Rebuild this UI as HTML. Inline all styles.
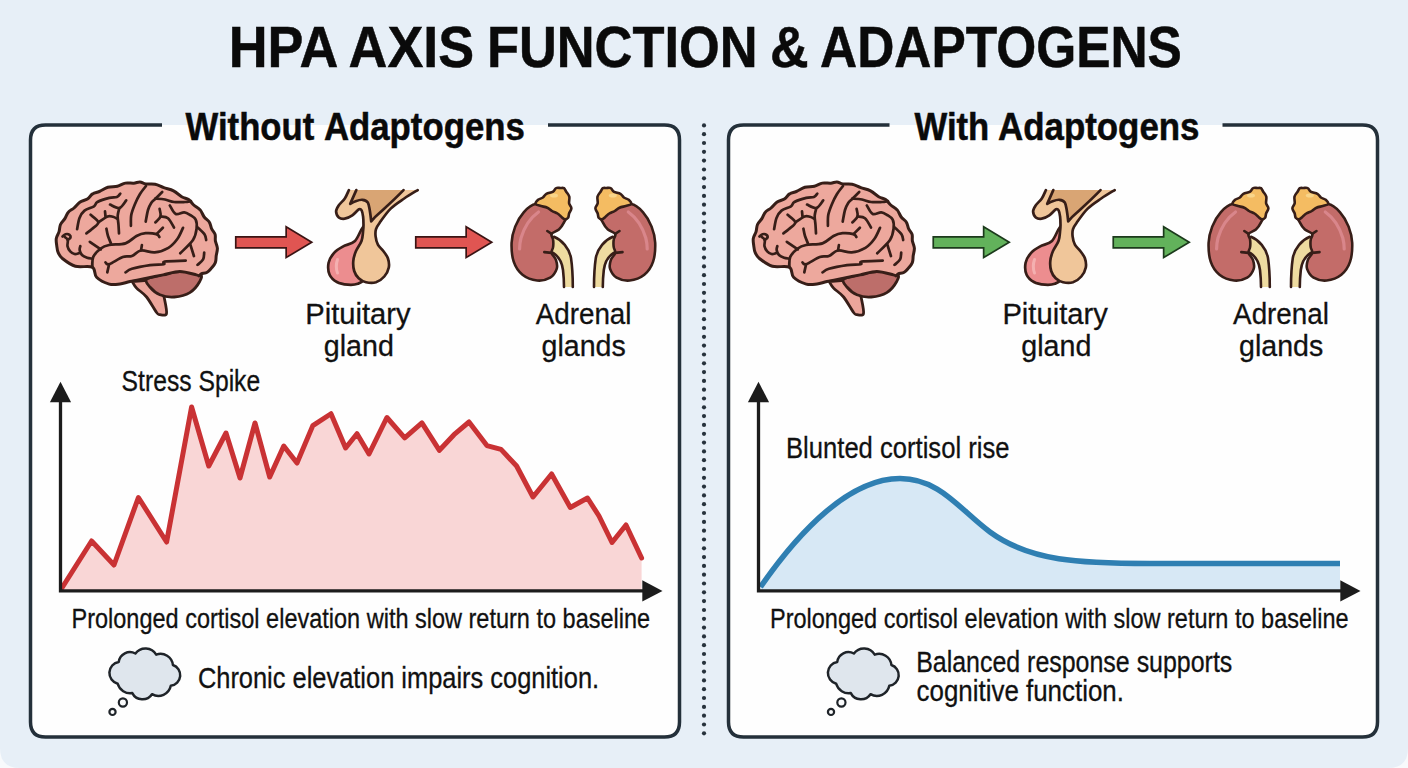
<!DOCTYPE html>
<html><head><meta charset="utf-8"><style>
html,body{margin:0;padding:0;width:1408px;height:768px;overflow:hidden;background:#f8fafc}
svg{display:block}
text{font-family:"Liberation Sans",sans-serif}
</style></head><body>
<svg width="1408" height="768" viewBox="0 0 1408 768">
<path d="M0,0 L1408,0 L1408,748 Q1408,768 1388,768 L20,768 Q0,768 0,748 Z" fill="#e7eff7"/>
<text x="228.7" y="67" font-size="58" font-weight="bold" fill="#0a0a0a" stroke="#0a0a0a" stroke-width="0.5" textLength="109.6" lengthAdjust="spacingAndGlyphs">HPA</text><text x="348.6" y="67" font-size="58" font-weight="bold" fill="#0a0a0a" stroke="#0a0a0a" stroke-width="0.5" textLength="125.6" lengthAdjust="spacingAndGlyphs">AXIS</text><text x="486.9" y="67" font-size="58" font-weight="bold" fill="#0a0a0a" stroke="#0a0a0a" stroke-width="0.5" textLength="270.8" lengthAdjust="spacingAndGlyphs">FUNCTION</text><text x="770" y="67" font-size="58" font-weight="bold" fill="#0a0a0a" stroke="#0a0a0a" stroke-width="0.5" textLength="38.6" lengthAdjust="spacingAndGlyphs">&amp;</text><text x="820" y="67" font-size="58" font-weight="bold" fill="#0a0a0a" stroke="#0a0a0a" stroke-width="0.5" textLength="361.9" lengthAdjust="spacingAndGlyphs">ADAPTOGENS</text>
<rect x="30.5" y="125" width="649.0" height="612" rx="15" fill="#fefefe"/><path d="M162,125 L45.5,125 Q30.5,125 30.5,140 L30.5,722 Q30.5,737 45.5,737 L664.5,737 Q679.5,737 679.5,722 L679.5,140 Q679.5,125 664.5,125 L548,125" fill="none" stroke="#24303a" stroke-width="3.5"/>
<rect x="728.5" y="125" width="649.0" height="612" rx="15" fill="#fefefe"/><path d="M889.5,125 L743.5,125 Q728.5,125 728.5,140 L728.5,722 Q728.5,737 743.5,737 L1362.5,737 Q1377.5,737 1377.5,722 L1377.5,140 Q1377.5,125 1362.5,125 L1222.5,125" fill="none" stroke="#24303a" stroke-width="3.5"/>
<g fill="#27323c"><circle cx="704" cy="125.4" r="2.1"/><circle cx="704" cy="134.2" r="2.1"/><circle cx="704" cy="143.0" r="2.1"/><circle cx="704" cy="151.8" r="2.1"/><circle cx="704" cy="160.6" r="2.1"/><circle cx="704" cy="169.5" r="2.1"/><circle cx="704" cy="178.3" r="2.1"/><circle cx="704" cy="187.1" r="2.1"/><circle cx="704" cy="195.9" r="2.1"/><circle cx="704" cy="204.7" r="2.1"/><circle cx="704" cy="213.5" r="2.1"/><circle cx="704" cy="222.3" r="2.1"/><circle cx="704" cy="231.1" r="2.1"/><circle cx="704" cy="239.9" r="2.1"/><circle cx="704" cy="248.7" r="2.1"/><circle cx="704" cy="257.6" r="2.1"/><circle cx="704" cy="266.4" r="2.1"/><circle cx="704" cy="275.2" r="2.1"/><circle cx="704" cy="284.0" r="2.1"/><circle cx="704" cy="292.8" r="2.1"/><circle cx="704" cy="301.6" r="2.1"/><circle cx="704" cy="310.4" r="2.1"/><circle cx="704" cy="319.2" r="2.1"/><circle cx="704" cy="328.0" r="2.1"/><circle cx="704" cy="336.8" r="2.1"/><circle cx="704" cy="345.6" r="2.1"/><circle cx="704" cy="354.5" r="2.1"/><circle cx="704" cy="363.3" r="2.1"/><circle cx="704" cy="372.1" r="2.1"/><circle cx="704" cy="380.9" r="2.1"/><circle cx="704" cy="389.7" r="2.1"/><circle cx="704" cy="398.5" r="2.1"/><circle cx="704" cy="407.3" r="2.1"/><circle cx="704" cy="416.1" r="2.1"/><circle cx="704" cy="424.9" r="2.1"/><circle cx="704" cy="433.8" r="2.1"/><circle cx="704" cy="442.6" r="2.1"/><circle cx="704" cy="451.4" r="2.1"/><circle cx="704" cy="460.2" r="2.1"/><circle cx="704" cy="469.0" r="2.1"/><circle cx="704" cy="477.8" r="2.1"/><circle cx="704" cy="486.6" r="2.1"/><circle cx="704" cy="495.4" r="2.1"/><circle cx="704" cy="504.2" r="2.1"/><circle cx="704" cy="513.0" r="2.1"/><circle cx="704" cy="521.9" r="2.1"/><circle cx="704" cy="530.7" r="2.1"/><circle cx="704" cy="539.5" r="2.1"/><circle cx="704" cy="548.3" r="2.1"/><circle cx="704" cy="557.1" r="2.1"/><circle cx="704" cy="565.9" r="2.1"/><circle cx="704" cy="574.7" r="2.1"/><circle cx="704" cy="583.5" r="2.1"/><circle cx="704" cy="592.3" r="2.1"/><circle cx="704" cy="601.1" r="2.1"/><circle cx="704" cy="610.0" r="2.1"/><circle cx="704" cy="618.8" r="2.1"/><circle cx="704" cy="627.6" r="2.1"/><circle cx="704" cy="636.4" r="2.1"/><circle cx="704" cy="645.2" r="2.1"/><circle cx="704" cy="654.0" r="2.1"/><circle cx="704" cy="662.8" r="2.1"/><circle cx="704" cy="671.6" r="2.1"/><circle cx="704" cy="680.4" r="2.1"/><circle cx="704" cy="689.2" r="2.1"/><circle cx="704" cy="698.0" r="2.1"/><circle cx="704" cy="706.9" r="2.1"/><circle cx="704" cy="715.7" r="2.1"/><circle cx="704" cy="724.5" r="2.1"/><circle cx="704" cy="733.3" r="2.1"/></g>
<text x="185.6" y="139.5" font-size="39" font-weight="bold" fill="#0a0a0a" stroke="#0a0a0a" stroke-width="0.5" textLength="128.6" lengthAdjust="spacingAndGlyphs">Without</text><text x="323.9" y="139.5" font-size="39" font-weight="bold" fill="#0a0a0a" stroke="#0a0a0a" stroke-width="0.5" textLength="201" lengthAdjust="spacingAndGlyphs">Adaptogens</text>
<text x="914.5" y="139.5" font-size="39" font-weight="bold" fill="#0a0a0a" stroke="#0a0a0a" stroke-width="0.5" textLength="74.8" lengthAdjust="spacingAndGlyphs">With</text><text x="998" y="139.5" font-size="39" font-weight="bold" fill="#0a0a0a" stroke="#0a0a0a" stroke-width="0.5" textLength="201.5" lengthAdjust="spacingAndGlyphs">Adaptogens</text>
<g transform="translate(0,0)"><path d="M132.2,281.5 C132.9,282.6 134.2,285.5 136.6,288.1 C139.0,290.7 143.3,292.9 146.6,297.0 C149.9,301.1 154.4,309.6 156.6,312.5 C158.8,315.4 158.2,314.5 159.9,314.7 C161.6,314.9 165.8,316.4 166.5,313.6 C167.2,310.8 165.0,301.7 164.3,298.1 C163.6,294.5 162.5,293.0 162.1,292.0 L150,280 Z" fill="#eca59b" stroke="#371e18" stroke-linejoin="round" stroke-linecap="round" stroke-width="2.8"/><path d="M146.6,279.3 C144.4,281.4 147.7,284.4 149.9,287.0 C152.1,289.6 155.8,293.1 159.9,294.8 C164.0,296.5 169.3,297.4 174.3,297.0 C179.3,296.6 185.6,295.2 189.8,292.6 C194.0,290.0 198.0,284.6 199.7,281.5 C201.3,278.4 203.0,275.7 199.7,274.0 C196.4,272.3 186.1,271.4 180.0,271.5 C173.9,271.6 168.6,273.2 163.0,274.5 C157.4,275.8 148.8,277.2 146.6,279.3 Z" fill="#bd6e6a" stroke="#371e18" stroke-linejoin="round" stroke-linecap="round" stroke-width="2.8"/><path d="M92.3,267.2 C88.8,265.4 80.3,267.7 75.4,266.3 C70.5,264.9 65.6,261.0 62.7,258.7 C59.8,256.4 59.2,254.9 58.2,252.7 C57.2,250.5 57.0,247.8 56.7,245.4 C56.4,243.0 55.9,240.6 56.3,238.4 C56.7,236.1 58.3,234.2 59.0,231.9 C59.7,229.6 59.5,226.8 60.5,224.5 C61.5,222.3 63.7,220.5 65.0,218.4 C66.3,216.3 66.8,213.9 68.3,212.2 C69.8,210.4 72.1,209.7 74.0,208.0 C75.9,206.3 77.6,203.7 79.8,202.2 C82.0,200.7 85.3,200.4 87.4,199.0 C89.5,197.6 90.6,195.1 92.6,193.9 C94.6,192.6 96.8,192.6 99.4,191.5 C102.0,190.4 104.9,188.2 107.9,187.3 C110.9,186.4 114.5,186.9 117.4,186.2 C120.3,185.5 122.6,183.6 125.3,183.1 C128.0,182.6 131.4,183.4 133.8,183.2 C136.2,183.0 137.9,181.9 139.9,182.0 C141.9,182.1 143.3,183.6 145.8,184.0 C148.3,184.4 152.1,183.7 155.1,184.3 C158.1,184.9 160.7,186.6 163.8,187.7 C166.9,188.8 170.5,189.3 173.5,190.8 C176.5,192.3 179.2,195.2 181.7,196.7 C184.2,198.2 186.6,198.2 188.6,199.5 C190.6,200.9 191.8,203.3 193.7,205.0 C195.6,206.7 198.4,207.9 200.2,209.9 C201.9,211.9 202.7,215.0 204.2,217.0 C205.7,219.0 208.1,220.1 209.3,222.1 C210.6,224.1 210.7,226.8 211.7,228.9 C212.7,231.0 214.5,232.4 215.1,234.4 C215.7,236.4 215.0,238.6 215.4,240.9 C215.8,243.2 217.3,245.8 217.4,248.3 C217.5,250.7 216.5,253.5 216.2,255.8 C215.9,258.1 216.2,260.4 215.4,262.4 C214.7,264.4 213.1,266.2 211.7,267.8 C210.3,269.4 209.0,271.2 207.2,272.2 C205.5,273.2 202.5,273.2 201.2,273.8 C199.9,274.4 200.0,275.7 199.2,275.9 C198.4,276.1 199.6,275.6 196.4,274.9 C193.2,274.2 185.3,271.5 179.8,271.5 C174.3,271.5 168.7,273.8 163.2,274.9 C157.7,276.0 152.1,277.1 146.6,278.2 C141.1,279.3 134.4,280.5 130.0,281.5 C125.6,282.5 123.5,283.6 120.0,284.0 C116.5,284.4 113.2,285.2 109.3,284.1 C105.4,283.0 99.4,280.1 96.6,277.3 C93.8,274.5 95.8,269.0 92.3,267.2 Z" fill="#eda89d" stroke="#371e18" stroke-linejoin="round" stroke-linecap="round" stroke-width="3"/><path d="M77.1,229.2 C77.5,227.3 78.3,221.1 79.5,218.0 C80.7,214.9 82.1,212.5 84.5,210.6 C86.9,208.7 91.8,207.7 94.0,206.3 C96.2,204.9 94.9,203.4 97.4,202.0 C100.0,200.6 106.0,198.7 109.3,197.9 C112.5,197.1 115.1,197.7 116.9,197.0 C118.7,196.3 119.7,194.2 120.3,193.6" fill="none" stroke="#371e18" stroke-linejoin="round" stroke-linecap="round" stroke-width="2.7"/><path d="M90.6,214.8 C91.9,216.1 98.1,220.0 98.3,222.4 C98.5,224.8 94.0,227.2 92.0,229.0 C90.0,230.8 87.3,232.7 86.4,233.4" fill="none" stroke="#371e18" stroke-linejoin="round" stroke-linecap="round" stroke-width="2.7"/><path d="M98.3,222.4 C99.8,221.4 105.1,217.4 107.6,216.5 C110.0,215.6 111.3,216.4 113.0,216.8 C114.7,217.2 116.9,218.6 117.7,219.0" fill="none" stroke="#371e18" stroke-linejoin="round" stroke-linecap="round" stroke-width="2.7"/><path d="M105.0,211.4 L105.5,216.5" fill="none" stroke="#371e18" stroke-linejoin="round" stroke-linecap="round" stroke-width="2.7"/><path d="M110.0,204.6 C111.6,205.2 116.7,208.7 119.4,208.0 C122.1,207.3 125.1,201.7 126.2,200.4" fill="none" stroke="#371e18" stroke-linejoin="round" stroke-linecap="round" stroke-width="2.7"/><path d="M119.4,208.0 C119.1,209.3 117.9,212.8 117.7,215.6 C117.5,218.4 118.3,222.0 118.5,225.0 C118.7,228.0 118.9,232.0 119.0,233.4" fill="none" stroke="#371e18" stroke-linejoin="round" stroke-linecap="round" stroke-width="2.7"/><path d="M106.4,228.7 C106.7,229.9 107.2,233.6 108.0,236.0 C108.8,238.4 110.4,242.1 110.9,243.3" fill="none" stroke="#371e18" stroke-linejoin="round" stroke-linecap="round" stroke-width="2.7"/><path d="M130.9,225.8 C131.0,224.0 130.6,218.4 131.3,214.8 C132.0,211.2 133.6,207.5 135.0,204.0 C136.4,200.5 138.2,197.0 140.0,194.0 C141.8,191.0 145.0,187.3 146.0,186.0" fill="none" stroke="#371e18" stroke-linejoin="round" stroke-linecap="round" stroke-width="2.7"/><path d="M145.7,221.6 C146.1,219.7 147.1,213.1 148.0,210.0 C148.9,206.9 150.0,204.9 151.2,203.0 C152.4,201.1 153.6,200.5 155.4,198.7 C157.2,196.9 161.1,193.1 162.2,192.0" fill="none" stroke="#371e18" stroke-linejoin="round" stroke-linecap="round" stroke-width="2.7"/><path d="M155.4,198.7 C157.0,198.8 161.9,198.9 165.0,199.5 C168.1,200.1 170.7,201.6 174.0,202.0 C177.3,202.4 182.2,202.1 185.0,202.0 C187.8,201.9 190.0,201.3 191.0,201.2" fill="none" stroke="#371e18" stroke-linejoin="round" stroke-linecap="round" stroke-width="2.7"/><path d="M169.8,205.5 C170.8,206.9 173.3,212.9 175.7,214.0 C178.1,215.1 181.8,212.1 184.2,212.3 C186.6,212.5 188.3,213.8 190.2,215.0 C192.1,216.2 194.6,217.3 195.7,219.6 C196.8,221.9 197.0,225.3 196.6,228.7 C196.2,232.1 195.7,235.9 193.0,240.0 C190.3,244.1 182.3,251.1 180.2,253.3" fill="none" stroke="#371e18" stroke-linejoin="round" stroke-linecap="round" stroke-width="2.7"/><path d="M190.2,244.2 L193.9,256.0" fill="none" stroke="#371e18" stroke-linejoin="round" stroke-linecap="round" stroke-width="2.7"/><path d="M159.6,208.9 C159.8,210.2 161.2,214.2 160.5,216.5 C159.8,218.8 156.2,221.4 155.4,222.4" fill="none" stroke="#371e18" stroke-linejoin="round" stroke-linecap="round" stroke-width="2.7"/><path d="M160.5,216.5 C161.8,216.8 165.8,216.4 168.0,218.2 C170.2,220.0 173.0,225.9 174.0,227.5" fill="none" stroke="#371e18" stroke-linejoin="round" stroke-linecap="round" stroke-width="2.7"/><path d="M183.0,227.8 C182.1,229.6 179.9,235.4 177.5,238.7 C175.1,242.0 172.2,245.5 168.4,247.8 C164.6,250.1 159.3,252.0 154.7,252.4 C150.1,252.8 144.8,249.9 141.0,250.5 C137.2,251.1 134.9,254.9 131.9,256.0 C128.9,257.1 126.6,255.6 122.8,257.0 C119.0,258.4 112.0,263.3 109.1,264.2 C106.2,265.1 106.1,262.7 105.5,262.4" fill="none" stroke="#371e18" stroke-linejoin="round" stroke-linecap="round" stroke-width="2.7"/><path d="M141.0,250.5 L141.9,245.1" fill="none" stroke="#371e18" stroke-linejoin="round" stroke-linecap="round" stroke-width="2.7"/><path d="M109.1,264.2 L107.3,272.4" fill="none" stroke="#371e18" stroke-linejoin="round" stroke-linecap="round" stroke-width="2.7"/><path d="M197.7,227.5 C198.8,228.6 203.1,232.2 204.5,234.3 C205.9,236.4 205.9,239.1 206.2,240.0" fill="none" stroke="#371e18" stroke-linejoin="round" stroke-linecap="round" stroke-width="2.7"/><path d="M125.5,272.4 C126.6,271.8 127.8,270.0 131.9,268.8 C136.0,267.6 144.8,265.9 150.1,265.1 C155.4,264.3 161.4,264.8 163.8,264.2 C166.2,263.6 161.0,262.1 164.7,261.5 C168.3,260.9 182.2,260.8 185.7,260.6" fill="none" stroke="#371e18" stroke-linejoin="round" stroke-linecap="round" stroke-width="2.7"/><path d="M197.5,264.9 C198.4,264.0 202.0,261.4 203.1,259.4 C204.2,257.4 204.0,253.8 204.2,252.7" fill="none" stroke="#371e18" stroke-linejoin="round" stroke-linecap="round" stroke-width="2.7"/><path d="M89.8,241.8 L100.8,249.4" fill="none" stroke="#371e18" stroke-linejoin="round" stroke-linecap="round" stroke-width="2.7"/><path d="M64.8,237.0 C65.3,237.5 67.3,238.5 67.8,240.0 C68.2,241.5 67.1,244.3 67.5,246.2 C67.9,248.1 69.0,250.0 70.2,251.3 C71.4,252.6 73.1,253.7 74.6,254.0 C76.1,254.3 78.3,253.3 79.0,253.2" fill="none" stroke="#371e18" stroke-linejoin="round" stroke-linecap="round" stroke-width="2.7"/><path d="M80.3,246.2 C80.2,246.9 79.4,248.7 79.7,250.2 C80.0,251.7 80.8,253.8 82.0,255.0 C83.2,256.2 85.4,257.1 87.1,257.7 C88.8,258.3 91.4,258.5 92.3,258.7" fill="none" stroke="#371e18" stroke-linejoin="round" stroke-linecap="round" stroke-width="2.7"/><path d="M62.5,236.5 C63.0,236.1 64.3,234.5 65.5,234.2 C66.7,233.9 68.7,234.2 69.5,234.8 C70.3,235.4 70.8,236.6 70.5,237.5 C70.2,238.4 68.2,239.6 67.8,240.0" fill="none" stroke="#371e18" stroke-linejoin="round" stroke-linecap="round" stroke-width="2.7"/><path d="M162.9,227.8 L156.5,234.1" fill="none" stroke="#371e18" stroke-linejoin="round" stroke-linecap="round" stroke-width="2.7"/><path d="M92.3,267.2 C92.5,265.5 91.8,260.1 93.2,257.0 C94.6,253.9 98.2,250.5 100.8,248.5 C103.4,246.5 105.0,245.9 109.1,245.0 C113.2,244.1 120.9,244.8 125.5,243.3 C130.1,241.8 133.2,237.7 136.5,236.0 C139.8,234.3 142.3,233.5 145.6,233.2 C148.9,232.9 154.2,233.5 156.5,234.1 C158.8,234.7 158.8,236.4 159.3,236.9" fill="none" stroke="#371e18" stroke-linejoin="round" stroke-linecap="round" stroke-width="2.8"/></g><g transform="translate(697,0)"><path d="M132.2,281.5 C132.9,282.6 134.2,285.5 136.6,288.1 C139.0,290.7 143.3,292.9 146.6,297.0 C149.9,301.1 154.4,309.6 156.6,312.5 C158.8,315.4 158.2,314.5 159.9,314.7 C161.6,314.9 165.8,316.4 166.5,313.6 C167.2,310.8 165.0,301.7 164.3,298.1 C163.6,294.5 162.5,293.0 162.1,292.0 L150,280 Z" fill="#eca59b" stroke="#371e18" stroke-linejoin="round" stroke-linecap="round" stroke-width="2.8"/><path d="M146.6,279.3 C144.4,281.4 147.7,284.4 149.9,287.0 C152.1,289.6 155.8,293.1 159.9,294.8 C164.0,296.5 169.3,297.4 174.3,297.0 C179.3,296.6 185.6,295.2 189.8,292.6 C194.0,290.0 198.0,284.6 199.7,281.5 C201.3,278.4 203.0,275.7 199.7,274.0 C196.4,272.3 186.1,271.4 180.0,271.5 C173.9,271.6 168.6,273.2 163.0,274.5 C157.4,275.8 148.8,277.2 146.6,279.3 Z" fill="#bd6e6a" stroke="#371e18" stroke-linejoin="round" stroke-linecap="round" stroke-width="2.8"/><path d="M92.3,267.2 C88.8,265.4 80.3,267.7 75.4,266.3 C70.5,264.9 65.6,261.0 62.7,258.7 C59.8,256.4 59.2,254.9 58.2,252.7 C57.2,250.5 57.0,247.8 56.7,245.4 C56.4,243.0 55.9,240.6 56.3,238.4 C56.7,236.1 58.3,234.2 59.0,231.9 C59.7,229.6 59.5,226.8 60.5,224.5 C61.5,222.3 63.7,220.5 65.0,218.4 C66.3,216.3 66.8,213.9 68.3,212.2 C69.8,210.4 72.1,209.7 74.0,208.0 C75.9,206.3 77.6,203.7 79.8,202.2 C82.0,200.7 85.3,200.4 87.4,199.0 C89.5,197.6 90.6,195.1 92.6,193.9 C94.6,192.6 96.8,192.6 99.4,191.5 C102.0,190.4 104.9,188.2 107.9,187.3 C110.9,186.4 114.5,186.9 117.4,186.2 C120.3,185.5 122.6,183.6 125.3,183.1 C128.0,182.6 131.4,183.4 133.8,183.2 C136.2,183.0 137.9,181.9 139.9,182.0 C141.9,182.1 143.3,183.6 145.8,184.0 C148.3,184.4 152.1,183.7 155.1,184.3 C158.1,184.9 160.7,186.6 163.8,187.7 C166.9,188.8 170.5,189.3 173.5,190.8 C176.5,192.3 179.2,195.2 181.7,196.7 C184.2,198.2 186.6,198.2 188.6,199.5 C190.6,200.9 191.8,203.3 193.7,205.0 C195.6,206.7 198.4,207.9 200.2,209.9 C201.9,211.9 202.7,215.0 204.2,217.0 C205.7,219.0 208.1,220.1 209.3,222.1 C210.6,224.1 210.7,226.8 211.7,228.9 C212.7,231.0 214.5,232.4 215.1,234.4 C215.7,236.4 215.0,238.6 215.4,240.9 C215.8,243.2 217.3,245.8 217.4,248.3 C217.5,250.7 216.5,253.5 216.2,255.8 C215.9,258.1 216.2,260.4 215.4,262.4 C214.7,264.4 213.1,266.2 211.7,267.8 C210.3,269.4 209.0,271.2 207.2,272.2 C205.5,273.2 202.5,273.2 201.2,273.8 C199.9,274.4 200.0,275.7 199.2,275.9 C198.4,276.1 199.6,275.6 196.4,274.9 C193.2,274.2 185.3,271.5 179.8,271.5 C174.3,271.5 168.7,273.8 163.2,274.9 C157.7,276.0 152.1,277.1 146.6,278.2 C141.1,279.3 134.4,280.5 130.0,281.5 C125.6,282.5 123.5,283.6 120.0,284.0 C116.5,284.4 113.2,285.2 109.3,284.1 C105.4,283.0 99.4,280.1 96.6,277.3 C93.8,274.5 95.8,269.0 92.3,267.2 Z" fill="#eda89d" stroke="#371e18" stroke-linejoin="round" stroke-linecap="round" stroke-width="3"/><path d="M77.1,229.2 C77.5,227.3 78.3,221.1 79.5,218.0 C80.7,214.9 82.1,212.5 84.5,210.6 C86.9,208.7 91.8,207.7 94.0,206.3 C96.2,204.9 94.9,203.4 97.4,202.0 C100.0,200.6 106.0,198.7 109.3,197.9 C112.5,197.1 115.1,197.7 116.9,197.0 C118.7,196.3 119.7,194.2 120.3,193.6" fill="none" stroke="#371e18" stroke-linejoin="round" stroke-linecap="round" stroke-width="2.7"/><path d="M90.6,214.8 C91.9,216.1 98.1,220.0 98.3,222.4 C98.5,224.8 94.0,227.2 92.0,229.0 C90.0,230.8 87.3,232.7 86.4,233.4" fill="none" stroke="#371e18" stroke-linejoin="round" stroke-linecap="round" stroke-width="2.7"/><path d="M98.3,222.4 C99.8,221.4 105.1,217.4 107.6,216.5 C110.0,215.6 111.3,216.4 113.0,216.8 C114.7,217.2 116.9,218.6 117.7,219.0" fill="none" stroke="#371e18" stroke-linejoin="round" stroke-linecap="round" stroke-width="2.7"/><path d="M105.0,211.4 L105.5,216.5" fill="none" stroke="#371e18" stroke-linejoin="round" stroke-linecap="round" stroke-width="2.7"/><path d="M110.0,204.6 C111.6,205.2 116.7,208.7 119.4,208.0 C122.1,207.3 125.1,201.7 126.2,200.4" fill="none" stroke="#371e18" stroke-linejoin="round" stroke-linecap="round" stroke-width="2.7"/><path d="M119.4,208.0 C119.1,209.3 117.9,212.8 117.7,215.6 C117.5,218.4 118.3,222.0 118.5,225.0 C118.7,228.0 118.9,232.0 119.0,233.4" fill="none" stroke="#371e18" stroke-linejoin="round" stroke-linecap="round" stroke-width="2.7"/><path d="M106.4,228.7 C106.7,229.9 107.2,233.6 108.0,236.0 C108.8,238.4 110.4,242.1 110.9,243.3" fill="none" stroke="#371e18" stroke-linejoin="round" stroke-linecap="round" stroke-width="2.7"/><path d="M130.9,225.8 C131.0,224.0 130.6,218.4 131.3,214.8 C132.0,211.2 133.6,207.5 135.0,204.0 C136.4,200.5 138.2,197.0 140.0,194.0 C141.8,191.0 145.0,187.3 146.0,186.0" fill="none" stroke="#371e18" stroke-linejoin="round" stroke-linecap="round" stroke-width="2.7"/><path d="M145.7,221.6 C146.1,219.7 147.1,213.1 148.0,210.0 C148.9,206.9 150.0,204.9 151.2,203.0 C152.4,201.1 153.6,200.5 155.4,198.7 C157.2,196.9 161.1,193.1 162.2,192.0" fill="none" stroke="#371e18" stroke-linejoin="round" stroke-linecap="round" stroke-width="2.7"/><path d="M155.4,198.7 C157.0,198.8 161.9,198.9 165.0,199.5 C168.1,200.1 170.7,201.6 174.0,202.0 C177.3,202.4 182.2,202.1 185.0,202.0 C187.8,201.9 190.0,201.3 191.0,201.2" fill="none" stroke="#371e18" stroke-linejoin="round" stroke-linecap="round" stroke-width="2.7"/><path d="M169.8,205.5 C170.8,206.9 173.3,212.9 175.7,214.0 C178.1,215.1 181.8,212.1 184.2,212.3 C186.6,212.5 188.3,213.8 190.2,215.0 C192.1,216.2 194.6,217.3 195.7,219.6 C196.8,221.9 197.0,225.3 196.6,228.7 C196.2,232.1 195.7,235.9 193.0,240.0 C190.3,244.1 182.3,251.1 180.2,253.3" fill="none" stroke="#371e18" stroke-linejoin="round" stroke-linecap="round" stroke-width="2.7"/><path d="M190.2,244.2 L193.9,256.0" fill="none" stroke="#371e18" stroke-linejoin="round" stroke-linecap="round" stroke-width="2.7"/><path d="M159.6,208.9 C159.8,210.2 161.2,214.2 160.5,216.5 C159.8,218.8 156.2,221.4 155.4,222.4" fill="none" stroke="#371e18" stroke-linejoin="round" stroke-linecap="round" stroke-width="2.7"/><path d="M160.5,216.5 C161.8,216.8 165.8,216.4 168.0,218.2 C170.2,220.0 173.0,225.9 174.0,227.5" fill="none" stroke="#371e18" stroke-linejoin="round" stroke-linecap="round" stroke-width="2.7"/><path d="M183.0,227.8 C182.1,229.6 179.9,235.4 177.5,238.7 C175.1,242.0 172.2,245.5 168.4,247.8 C164.6,250.1 159.3,252.0 154.7,252.4 C150.1,252.8 144.8,249.9 141.0,250.5 C137.2,251.1 134.9,254.9 131.9,256.0 C128.9,257.1 126.6,255.6 122.8,257.0 C119.0,258.4 112.0,263.3 109.1,264.2 C106.2,265.1 106.1,262.7 105.5,262.4" fill="none" stroke="#371e18" stroke-linejoin="round" stroke-linecap="round" stroke-width="2.7"/><path d="M141.0,250.5 L141.9,245.1" fill="none" stroke="#371e18" stroke-linejoin="round" stroke-linecap="round" stroke-width="2.7"/><path d="M109.1,264.2 L107.3,272.4" fill="none" stroke="#371e18" stroke-linejoin="round" stroke-linecap="round" stroke-width="2.7"/><path d="M197.7,227.5 C198.8,228.6 203.1,232.2 204.5,234.3 C205.9,236.4 205.9,239.1 206.2,240.0" fill="none" stroke="#371e18" stroke-linejoin="round" stroke-linecap="round" stroke-width="2.7"/><path d="M125.5,272.4 C126.6,271.8 127.8,270.0 131.9,268.8 C136.0,267.6 144.8,265.9 150.1,265.1 C155.4,264.3 161.4,264.8 163.8,264.2 C166.2,263.6 161.0,262.1 164.7,261.5 C168.3,260.9 182.2,260.8 185.7,260.6" fill="none" stroke="#371e18" stroke-linejoin="round" stroke-linecap="round" stroke-width="2.7"/><path d="M197.5,264.9 C198.4,264.0 202.0,261.4 203.1,259.4 C204.2,257.4 204.0,253.8 204.2,252.7" fill="none" stroke="#371e18" stroke-linejoin="round" stroke-linecap="round" stroke-width="2.7"/><path d="M89.8,241.8 L100.8,249.4" fill="none" stroke="#371e18" stroke-linejoin="round" stroke-linecap="round" stroke-width="2.7"/><path d="M64.8,237.0 C65.3,237.5 67.3,238.5 67.8,240.0 C68.2,241.5 67.1,244.3 67.5,246.2 C67.9,248.1 69.0,250.0 70.2,251.3 C71.4,252.6 73.1,253.7 74.6,254.0 C76.1,254.3 78.3,253.3 79.0,253.2" fill="none" stroke="#371e18" stroke-linejoin="round" stroke-linecap="round" stroke-width="2.7"/><path d="M80.3,246.2 C80.2,246.9 79.4,248.7 79.7,250.2 C80.0,251.7 80.8,253.8 82.0,255.0 C83.2,256.2 85.4,257.1 87.1,257.7 C88.8,258.3 91.4,258.5 92.3,258.7" fill="none" stroke="#371e18" stroke-linejoin="round" stroke-linecap="round" stroke-width="2.7"/><path d="M62.5,236.5 C63.0,236.1 64.3,234.5 65.5,234.2 C66.7,233.9 68.7,234.2 69.5,234.8 C70.3,235.4 70.8,236.6 70.5,237.5 C70.2,238.4 68.2,239.6 67.8,240.0" fill="none" stroke="#371e18" stroke-linejoin="round" stroke-linecap="round" stroke-width="2.7"/><path d="M162.9,227.8 L156.5,234.1" fill="none" stroke="#371e18" stroke-linejoin="round" stroke-linecap="round" stroke-width="2.7"/><path d="M92.3,267.2 C92.5,265.5 91.8,260.1 93.2,257.0 C94.6,253.9 98.2,250.5 100.8,248.5 C103.4,246.5 105.0,245.9 109.1,245.0 C113.2,244.1 120.9,244.8 125.5,243.3 C130.1,241.8 133.2,237.7 136.5,236.0 C139.8,234.3 142.3,233.5 145.6,233.2 C148.9,232.9 154.2,233.5 156.5,234.1 C158.8,234.7 158.8,236.4 159.3,236.9" fill="none" stroke="#371e18" stroke-linejoin="round" stroke-linecap="round" stroke-width="2.8"/></g>
<path d="M235.75,236.79999999999998 L286.15,236.79999999999998 L286.15,226.79999999999998 L311.75,242.2 L286.15,257.59999999999997 L286.15,247.79999999999998 L235.75,247.79999999999998 Z" fill="#e05552" stroke="#3a1414" stroke-width="1.7" stroke-linejoin="miter"/>
<path d="M415.75,236.79999999999998 L466.15,236.79999999999998 L466.15,226.79999999999998 L491.75,242.2 L466.15,257.59999999999997 L466.15,247.79999999999998 L415.75,247.79999999999998 Z" fill="#e05552" stroke="#3a1414" stroke-width="1.7" stroke-linejoin="miter"/>
<path d="M933.25,236.79999999999998 L983.65,236.79999999999998 L983.65,226.79999999999998 L1009.25,242.2 L983.65,257.59999999999997 L983.65,247.79999999999998 L933.25,247.79999999999998 Z" fill="#62b25b" stroke="#1c3a1c" stroke-width="1.7" stroke-linejoin="miter"/>
<path d="M1113.25,236.79999999999998 L1163.65,236.79999999999998 L1163.65,226.79999999999998 L1189.25,242.2 L1163.65,257.59999999999997 L1163.65,247.79999999999998 L1113.25,247.79999999999998 Z" fill="#62b25b" stroke="#1c3a1c" stroke-width="1.7" stroke-linejoin="miter"/>
<g transform="translate(0,0)"><path d="M364.0,226.0 C361.8,226.2 358.5,237.6 355.0,241.0 C351.5,244.4 346.7,244.4 343.2,246.4 C339.7,248.4 336.5,250.1 334.1,252.8 C331.7,255.5 329.4,259.2 328.6,262.8 C327.9,266.4 328.2,271.5 329.6,274.7 C331.0,277.9 333.9,280.3 336.9,282.0 C339.9,283.7 344.3,284.4 347.8,284.7 C351.3,285.0 355.1,284.8 357.8,283.8 C360.5,282.9 362.0,282.6 364.0,279.0 C366.0,275.4 369.3,268.5 370.0,262.0 C370.7,255.5 369.0,246.0 368.0,240.0 C367.0,234.0 366.2,225.8 364.0,226.0 Z" fill="#ec8d8f" stroke="#371e18" stroke-width="2.7" stroke-linejoin="round" stroke-linecap="round"/><path d="M337.5,259.5 C336,264 336,269 337.5,273" fill="none" stroke="#f4b0b0" stroke-width="3" stroke-linecap="round"/><path d="M348.9,190.1 C348.2,191.5 346.5,196.0 344.8,198.5 C343.1,201.0 340.2,203.1 338.8,205.2 C337.4,207.3 336.1,209.3 336.1,211.3 C336.1,213.3 337.4,216.2 338.8,217.4 C340.2,218.6 342.6,219.0 344.8,218.7 C347.1,218.4 349.9,217.0 352.3,215.4 C354.7,213.8 357.4,210.1 359.0,209.3 C360.6,208.5 361.0,209.4 361.7,210.6 C362.4,211.8 362.8,214.3 363.1,216.7 C363.4,219.1 363.5,222.4 363.5,225.0 C363.5,227.6 363.3,229.3 363.0,232.0 C362.7,234.7 362.7,237.8 361.5,241.0 C360.3,244.2 357.4,247.7 356.0,251.0 C354.6,254.3 353.6,257.7 353.3,261.0 C353.0,264.3 353.3,268.1 354.2,271.0 C355.1,273.9 356.7,276.4 358.7,278.3 C360.7,280.2 363.1,281.6 366.0,282.2 C368.9,282.8 372.9,283.1 376.0,282.2 C379.1,281.2 382.2,279.0 384.3,276.5 C386.4,274.0 388.2,270.4 388.8,267.4 C389.4,264.4 388.8,261.0 387.9,258.3 C387.0,255.6 385.0,253.3 383.3,251.0 C381.6,248.7 379.2,247.0 377.9,244.6 C376.6,242.2 375.9,239.0 375.6,236.4 C375.3,233.8 375.3,231.4 376.0,229.1 C376.7,226.8 377.2,226.1 379.7,222.7 C382.1,219.3 386.6,212.6 390.7,208.6 C394.8,204.6 399.7,201.6 404.2,198.5 C408.7,195.4 415.4,191.5 417.7,190.1 Z" fill="#f0c69a" stroke="none"/><path d="M348.9,190.1 C348.2,191.5 346.5,196.0 344.8,198.5 C343.1,201.0 340.2,203.1 338.8,205.2 C337.4,207.3 336.1,209.3 336.1,211.3 C336.1,213.3 337.4,216.2 338.8,217.4 C340.2,218.6 342.6,219.0 344.8,218.7 C347.1,218.4 349.9,217.0 352.3,215.4 C354.7,213.8 357.4,210.1 359.0,209.3 C360.6,208.5 361.0,209.4 361.7,210.6 C362.4,211.8 362.8,214.3 363.1,216.7 C363.4,219.1 363.5,222.4 363.5,225.0 C363.5,227.6 363.3,229.3 363.0,232.0 C362.7,234.7 362.7,237.8 361.5,241.0 C360.3,244.2 357.4,247.7 356.0,251.0 C354.6,254.3 353.6,257.7 353.3,261.0 C353.0,264.3 353.3,268.1 354.2,271.0 C355.1,273.9 356.7,276.4 358.7,278.3 C360.7,280.2 363.1,281.6 366.0,282.2 C368.9,282.8 372.9,283.1 376.0,282.2 C379.1,281.2 382.2,279.0 384.3,276.5 C386.4,274.0 388.2,270.4 388.8,267.4 C389.4,264.4 388.8,261.0 387.9,258.3 C387.0,255.6 385.0,253.3 383.3,251.0 C381.6,248.7 379.2,247.0 377.9,244.6 C376.6,242.2 375.9,239.0 375.6,236.4 C375.3,233.8 375.3,231.4 376.0,229.1 C376.7,226.8 377.2,226.1 379.7,222.7 C382.1,219.3 386.6,212.6 390.7,208.6 C394.8,204.6 399.7,201.6 404.2,198.5 C408.7,195.4 415.4,191.5 417.7,190.1" fill="none" stroke="#371e18" stroke-width="2.7" stroke-linejoin="round" stroke-linecap="round"/><path d="M356.3,190.1 L350.2,203.9  C351.1,203.4 353.6,201.9 355.6,201.2 C357.6,200.5 360.4,199.6 362.4,199.8 C364.4,200.0 366.6,200.7 367.8,202.5 C369.0,204.3 369.2,207.4 369.8,210.6 C370.4,213.8 371.0,219.6 371.2,221.4 C374,218 377,215 380,212.5 C386,207 395,199 403.5,190.1 Z" fill="#d9a574" stroke="none"/><path d="M356.3,190.1 L350.2,203.9  C351.1,203.4 353.6,201.9 355.6,201.2 C357.6,200.5 360.4,199.6 362.4,199.8 C364.4,200.0 366.6,200.7 367.8,202.5 C369.0,204.3 369.2,207.4 369.8,210.6 C370.4,213.8 371.0,219.6 371.2,221.4 C374,218 377,215 380,212.5 C386,207 395,199 403.5,190.1" fill="none" stroke="#371e18" stroke-width="2.7" stroke-linejoin="round" stroke-linecap="round"/></g><g transform="translate(697,0)"><path d="M364.0,226.0 C361.8,226.2 358.5,237.6 355.0,241.0 C351.5,244.4 346.7,244.4 343.2,246.4 C339.7,248.4 336.5,250.1 334.1,252.8 C331.7,255.5 329.4,259.2 328.6,262.8 C327.9,266.4 328.2,271.5 329.6,274.7 C331.0,277.9 333.9,280.3 336.9,282.0 C339.9,283.7 344.3,284.4 347.8,284.7 C351.3,285.0 355.1,284.8 357.8,283.8 C360.5,282.9 362.0,282.6 364.0,279.0 C366.0,275.4 369.3,268.5 370.0,262.0 C370.7,255.5 369.0,246.0 368.0,240.0 C367.0,234.0 366.2,225.8 364.0,226.0 Z" fill="#ec8d8f" stroke="#371e18" stroke-width="2.7" stroke-linejoin="round" stroke-linecap="round"/><path d="M337.5,259.5 C336,264 336,269 337.5,273" fill="none" stroke="#f4b0b0" stroke-width="3" stroke-linecap="round"/><path d="M348.9,190.1 C348.2,191.5 346.5,196.0 344.8,198.5 C343.1,201.0 340.2,203.1 338.8,205.2 C337.4,207.3 336.1,209.3 336.1,211.3 C336.1,213.3 337.4,216.2 338.8,217.4 C340.2,218.6 342.6,219.0 344.8,218.7 C347.1,218.4 349.9,217.0 352.3,215.4 C354.7,213.8 357.4,210.1 359.0,209.3 C360.6,208.5 361.0,209.4 361.7,210.6 C362.4,211.8 362.8,214.3 363.1,216.7 C363.4,219.1 363.5,222.4 363.5,225.0 C363.5,227.6 363.3,229.3 363.0,232.0 C362.7,234.7 362.7,237.8 361.5,241.0 C360.3,244.2 357.4,247.7 356.0,251.0 C354.6,254.3 353.6,257.7 353.3,261.0 C353.0,264.3 353.3,268.1 354.2,271.0 C355.1,273.9 356.7,276.4 358.7,278.3 C360.7,280.2 363.1,281.6 366.0,282.2 C368.9,282.8 372.9,283.1 376.0,282.2 C379.1,281.2 382.2,279.0 384.3,276.5 C386.4,274.0 388.2,270.4 388.8,267.4 C389.4,264.4 388.8,261.0 387.9,258.3 C387.0,255.6 385.0,253.3 383.3,251.0 C381.6,248.7 379.2,247.0 377.9,244.6 C376.6,242.2 375.9,239.0 375.6,236.4 C375.3,233.8 375.3,231.4 376.0,229.1 C376.7,226.8 377.2,226.1 379.7,222.7 C382.1,219.3 386.6,212.6 390.7,208.6 C394.8,204.6 399.7,201.6 404.2,198.5 C408.7,195.4 415.4,191.5 417.7,190.1 Z" fill="#f0c69a" stroke="none"/><path d="M348.9,190.1 C348.2,191.5 346.5,196.0 344.8,198.5 C343.1,201.0 340.2,203.1 338.8,205.2 C337.4,207.3 336.1,209.3 336.1,211.3 C336.1,213.3 337.4,216.2 338.8,217.4 C340.2,218.6 342.6,219.0 344.8,218.7 C347.1,218.4 349.9,217.0 352.3,215.4 C354.7,213.8 357.4,210.1 359.0,209.3 C360.6,208.5 361.0,209.4 361.7,210.6 C362.4,211.8 362.8,214.3 363.1,216.7 C363.4,219.1 363.5,222.4 363.5,225.0 C363.5,227.6 363.3,229.3 363.0,232.0 C362.7,234.7 362.7,237.8 361.5,241.0 C360.3,244.2 357.4,247.7 356.0,251.0 C354.6,254.3 353.6,257.7 353.3,261.0 C353.0,264.3 353.3,268.1 354.2,271.0 C355.1,273.9 356.7,276.4 358.7,278.3 C360.7,280.2 363.1,281.6 366.0,282.2 C368.9,282.8 372.9,283.1 376.0,282.2 C379.1,281.2 382.2,279.0 384.3,276.5 C386.4,274.0 388.2,270.4 388.8,267.4 C389.4,264.4 388.8,261.0 387.9,258.3 C387.0,255.6 385.0,253.3 383.3,251.0 C381.6,248.7 379.2,247.0 377.9,244.6 C376.6,242.2 375.9,239.0 375.6,236.4 C375.3,233.8 375.3,231.4 376.0,229.1 C376.7,226.8 377.2,226.1 379.7,222.7 C382.1,219.3 386.6,212.6 390.7,208.6 C394.8,204.6 399.7,201.6 404.2,198.5 C408.7,195.4 415.4,191.5 417.7,190.1" fill="none" stroke="#371e18" stroke-width="2.7" stroke-linejoin="round" stroke-linecap="round"/><path d="M356.3,190.1 L350.2,203.9  C351.1,203.4 353.6,201.9 355.6,201.2 C357.6,200.5 360.4,199.6 362.4,199.8 C364.4,200.0 366.6,200.7 367.8,202.5 C369.0,204.3 369.2,207.4 369.8,210.6 C370.4,213.8 371.0,219.6 371.2,221.4 C374,218 377,215 380,212.5 C386,207 395,199 403.5,190.1 Z" fill="#d9a574" stroke="none"/><path d="M356.3,190.1 L350.2,203.9  C351.1,203.4 353.6,201.9 355.6,201.2 C357.6,200.5 360.4,199.6 362.4,199.8 C364.4,200.0 366.6,200.7 367.8,202.5 C369.0,204.3 369.2,207.4 369.8,210.6 C370.4,213.8 371.0,219.6 371.2,221.4 C374,218 377,215 380,212.5 C386,207 395,199 403.5,190.1" fill="none" stroke="#371e18" stroke-width="2.7" stroke-linejoin="round" stroke-linecap="round"/></g>
<g transform="translate(0,0)"><g><path d="M553,236 C560,240 566,246 569.5,256 C572,266 572.8,276 572.8,287 L564,287 C564,276 563.3,268 561,262 C559,257 556,254 553,252 Z" fill="#eedba0" stroke="none"/><path d="M554,236.8 C562,240 569,248 571,258 C572.5,268 572.8,278 572.8,287" fill="none" stroke="#371e18" stroke-width="2.6" stroke-linejoin="round" stroke-linecap="round"/><path d="M553.1,252.9 C558,256 562,262 563,270 C563.8,277 564,282 564,287" fill="none" stroke="#371e18" stroke-width="2.6" stroke-linejoin="round" stroke-linecap="round"/><path d="M535.6,204.0 C530.4,204.7 527.3,208.3 523.9,212.1 C520.5,215.9 517.2,221.5 515.2,226.6 C513.2,231.7 511.9,236.9 511.6,242.7 C511.4,248.5 511.9,256.3 513.7,261.6 C515.5,266.9 518.6,271.6 522.5,274.7 C526.4,277.8 532.5,280.0 537.1,280.5 C541.7,281.0 546.9,279.5 550.2,277.6 C553.5,275.7 555.7,271.8 556.7,268.9 C557.7,266.0 556.9,262.8 556.0,260.1 C555.1,257.4 552.1,255.1 551.6,252.9 C551.1,250.7 552.9,249.2 553.1,247.0 C553.4,244.8 553.4,241.9 553.1,239.7 C552.9,237.5 550.6,235.6 551.6,233.9 C552.6,232.2 556.8,231.4 558.9,229.5 C561.0,227.6 562.8,224.7 564.0,222.3 C565.2,219.9 567.7,217.4 566.2,215.0 C564.7,212.6 560.1,209.8 555.0,208.0 C549.9,206.2 540.8,203.3 535.6,204.0 Z" fill="#c36c69" stroke="#371e18" stroke-width="2.6" stroke-linejoin="round" stroke-linecap="round"/><path d="M551.6,252.9 L544.3,252.1 M551.6,233.9 L547.3,231" fill="none" stroke="#371e18" stroke-width="2.6" stroke-linejoin="round" stroke-linecap="round"/><path d="M538.5,212 C530,218 524,228 521,238 C519.5,244 519.6,247 519.6,249" fill="none" stroke="#d9868b" stroke-width="3.2" stroke-linecap="round"/><path d="M535.6,204.0 C535.1,203.0 536.9,200.9 538.1,199.8 C539.3,198.8 541.5,198.5 542.9,197.5 C544.3,196.5 544.7,194.8 546.4,193.8 C548.1,192.9 551.5,192.7 553.1,191.7 C554.7,190.7 554.8,188.7 556.1,188.1 C557.3,187.5 559.1,188.0 560.4,188.0 C561.7,188.0 563.0,187.6 564.0,188.2 C564.9,188.8 565.3,190.3 566.2,191.7 C567.1,193.1 568.8,194.7 569.3,196.6 C569.8,198.6 568.8,201.4 569.1,203.3 C569.4,205.2 571.4,206.6 571.4,208.3 C571.4,210.0 569.6,211.9 569.1,213.5 C568.6,215.1 568.8,216.7 568.1,217.7 C567.4,218.6 565.9,219.5 564.7,219.3 C563.5,219.1 562.2,217.5 561.0,216.5 C559.8,215.5 559.0,214.4 557.5,213.5 C556.0,212.6 553.7,212.0 552.0,211.0 C550.3,210.0 549.1,208.5 547.3,207.7 C545.5,206.9 543.0,206.6 541.0,206.0 C539.0,205.4 536.1,205.0 535.6,204.0 Z" fill="#f4bc62" stroke="#371e18" stroke-width="2.6" stroke-linejoin="round" stroke-linecap="round"/><ellipse cx="554" cy="195.5" rx="4" ry="2" fill="#f9d58a"/></g><g transform="translate(1166.8,0) scale(-1,1)"><path d="M553,236 C560,240 566,246 569.5,256 C572,266 572.8,276 572.8,287 L564,287 C564,276 563.3,268 561,262 C559,257 556,254 553,252 Z" fill="#eedba0" stroke="none"/><path d="M554,236.8 C562,240 569,248 571,258 C572.5,268 572.8,278 572.8,287" fill="none" stroke="#371e18" stroke-width="2.6" stroke-linejoin="round" stroke-linecap="round"/><path d="M553.1,252.9 C558,256 562,262 563,270 C563.8,277 564,282 564,287" fill="none" stroke="#371e18" stroke-width="2.6" stroke-linejoin="round" stroke-linecap="round"/><path d="M535.6,204.0 C530.4,204.7 527.3,208.3 523.9,212.1 C520.5,215.9 517.2,221.5 515.2,226.6 C513.2,231.7 511.9,236.9 511.6,242.7 C511.4,248.5 511.9,256.3 513.7,261.6 C515.5,266.9 518.6,271.6 522.5,274.7 C526.4,277.8 532.5,280.0 537.1,280.5 C541.7,281.0 546.9,279.5 550.2,277.6 C553.5,275.7 555.7,271.8 556.7,268.9 C557.7,266.0 556.9,262.8 556.0,260.1 C555.1,257.4 552.1,255.1 551.6,252.9 C551.1,250.7 552.9,249.2 553.1,247.0 C553.4,244.8 553.4,241.9 553.1,239.7 C552.9,237.5 550.6,235.6 551.6,233.9 C552.6,232.2 556.8,231.4 558.9,229.5 C561.0,227.6 562.8,224.7 564.0,222.3 C565.2,219.9 567.7,217.4 566.2,215.0 C564.7,212.6 560.1,209.8 555.0,208.0 C549.9,206.2 540.8,203.3 535.6,204.0 Z" fill="#c36c69" stroke="#371e18" stroke-width="2.6" stroke-linejoin="round" stroke-linecap="round"/><path d="M551.6,252.9 L544.3,252.1 M551.6,233.9 L547.3,231" fill="none" stroke="#371e18" stroke-width="2.6" stroke-linejoin="round" stroke-linecap="round"/><path d="M538.5,212 C530,218 524,228 521,238 C519.5,244 519.6,247 519.6,249" fill="none" stroke="#d9868b" stroke-width="3.2" stroke-linecap="round"/><path d="M535.6,204.0 C535.1,203.0 536.9,200.9 538.1,199.8 C539.3,198.8 541.5,198.5 542.9,197.5 C544.3,196.5 544.7,194.8 546.4,193.8 C548.1,192.9 551.5,192.7 553.1,191.7 C554.7,190.7 554.8,188.7 556.1,188.1 C557.3,187.5 559.1,188.0 560.4,188.0 C561.7,188.0 563.0,187.6 564.0,188.2 C564.9,188.8 565.3,190.3 566.2,191.7 C567.1,193.1 568.8,194.7 569.3,196.6 C569.8,198.6 568.8,201.4 569.1,203.3 C569.4,205.2 571.4,206.6 571.4,208.3 C571.4,210.0 569.6,211.9 569.1,213.5 C568.6,215.1 568.8,216.7 568.1,217.7 C567.4,218.6 565.9,219.5 564.7,219.3 C563.5,219.1 562.2,217.5 561.0,216.5 C559.8,215.5 559.0,214.4 557.5,213.5 C556.0,212.6 553.7,212.0 552.0,211.0 C550.3,210.0 549.1,208.5 547.3,207.7 C545.5,206.9 543.0,206.6 541.0,206.0 C539.0,205.4 536.1,205.0 535.6,204.0 Z" fill="#f4bc62" stroke="#371e18" stroke-width="2.6" stroke-linejoin="round" stroke-linecap="round"/><ellipse cx="554" cy="195.5" rx="4" ry="2" fill="#f9d58a"/></g></g><g transform="translate(697,0)"><g><path d="M553,236 C560,240 566,246 569.5,256 C572,266 572.8,276 572.8,287 L564,287 C564,276 563.3,268 561,262 C559,257 556,254 553,252 Z" fill="#eedba0" stroke="none"/><path d="M554,236.8 C562,240 569,248 571,258 C572.5,268 572.8,278 572.8,287" fill="none" stroke="#371e18" stroke-width="2.6" stroke-linejoin="round" stroke-linecap="round"/><path d="M553.1,252.9 C558,256 562,262 563,270 C563.8,277 564,282 564,287" fill="none" stroke="#371e18" stroke-width="2.6" stroke-linejoin="round" stroke-linecap="round"/><path d="M535.6,204.0 C530.4,204.7 527.3,208.3 523.9,212.1 C520.5,215.9 517.2,221.5 515.2,226.6 C513.2,231.7 511.9,236.9 511.6,242.7 C511.4,248.5 511.9,256.3 513.7,261.6 C515.5,266.9 518.6,271.6 522.5,274.7 C526.4,277.8 532.5,280.0 537.1,280.5 C541.7,281.0 546.9,279.5 550.2,277.6 C553.5,275.7 555.7,271.8 556.7,268.9 C557.7,266.0 556.9,262.8 556.0,260.1 C555.1,257.4 552.1,255.1 551.6,252.9 C551.1,250.7 552.9,249.2 553.1,247.0 C553.4,244.8 553.4,241.9 553.1,239.7 C552.9,237.5 550.6,235.6 551.6,233.9 C552.6,232.2 556.8,231.4 558.9,229.5 C561.0,227.6 562.8,224.7 564.0,222.3 C565.2,219.9 567.7,217.4 566.2,215.0 C564.7,212.6 560.1,209.8 555.0,208.0 C549.9,206.2 540.8,203.3 535.6,204.0 Z" fill="#c36c69" stroke="#371e18" stroke-width="2.6" stroke-linejoin="round" stroke-linecap="round"/><path d="M551.6,252.9 L544.3,252.1 M551.6,233.9 L547.3,231" fill="none" stroke="#371e18" stroke-width="2.6" stroke-linejoin="round" stroke-linecap="round"/><path d="M538.5,212 C530,218 524,228 521,238 C519.5,244 519.6,247 519.6,249" fill="none" stroke="#d9868b" stroke-width="3.2" stroke-linecap="round"/><path d="M535.6,204.0 C535.1,203.0 536.9,200.9 538.1,199.8 C539.3,198.8 541.5,198.5 542.9,197.5 C544.3,196.5 544.7,194.8 546.4,193.8 C548.1,192.9 551.5,192.7 553.1,191.7 C554.7,190.7 554.8,188.7 556.1,188.1 C557.3,187.5 559.1,188.0 560.4,188.0 C561.7,188.0 563.0,187.6 564.0,188.2 C564.9,188.8 565.3,190.3 566.2,191.7 C567.1,193.1 568.8,194.7 569.3,196.6 C569.8,198.6 568.8,201.4 569.1,203.3 C569.4,205.2 571.4,206.6 571.4,208.3 C571.4,210.0 569.6,211.9 569.1,213.5 C568.6,215.1 568.8,216.7 568.1,217.7 C567.4,218.6 565.9,219.5 564.7,219.3 C563.5,219.1 562.2,217.5 561.0,216.5 C559.8,215.5 559.0,214.4 557.5,213.5 C556.0,212.6 553.7,212.0 552.0,211.0 C550.3,210.0 549.1,208.5 547.3,207.7 C545.5,206.9 543.0,206.6 541.0,206.0 C539.0,205.4 536.1,205.0 535.6,204.0 Z" fill="#f4bc62" stroke="#371e18" stroke-width="2.6" stroke-linejoin="round" stroke-linecap="round"/><ellipse cx="554" cy="195.5" rx="4" ry="2" fill="#f9d58a"/></g><g transform="translate(1166.8,0) scale(-1,1)"><path d="M553,236 C560,240 566,246 569.5,256 C572,266 572.8,276 572.8,287 L564,287 C564,276 563.3,268 561,262 C559,257 556,254 553,252 Z" fill="#eedba0" stroke="none"/><path d="M554,236.8 C562,240 569,248 571,258 C572.5,268 572.8,278 572.8,287" fill="none" stroke="#371e18" stroke-width="2.6" stroke-linejoin="round" stroke-linecap="round"/><path d="M553.1,252.9 C558,256 562,262 563,270 C563.8,277 564,282 564,287" fill="none" stroke="#371e18" stroke-width="2.6" stroke-linejoin="round" stroke-linecap="round"/><path d="M535.6,204.0 C530.4,204.7 527.3,208.3 523.9,212.1 C520.5,215.9 517.2,221.5 515.2,226.6 C513.2,231.7 511.9,236.9 511.6,242.7 C511.4,248.5 511.9,256.3 513.7,261.6 C515.5,266.9 518.6,271.6 522.5,274.7 C526.4,277.8 532.5,280.0 537.1,280.5 C541.7,281.0 546.9,279.5 550.2,277.6 C553.5,275.7 555.7,271.8 556.7,268.9 C557.7,266.0 556.9,262.8 556.0,260.1 C555.1,257.4 552.1,255.1 551.6,252.9 C551.1,250.7 552.9,249.2 553.1,247.0 C553.4,244.8 553.4,241.9 553.1,239.7 C552.9,237.5 550.6,235.6 551.6,233.9 C552.6,232.2 556.8,231.4 558.9,229.5 C561.0,227.6 562.8,224.7 564.0,222.3 C565.2,219.9 567.7,217.4 566.2,215.0 C564.7,212.6 560.1,209.8 555.0,208.0 C549.9,206.2 540.8,203.3 535.6,204.0 Z" fill="#c36c69" stroke="#371e18" stroke-width="2.6" stroke-linejoin="round" stroke-linecap="round"/><path d="M551.6,252.9 L544.3,252.1 M551.6,233.9 L547.3,231" fill="none" stroke="#371e18" stroke-width="2.6" stroke-linejoin="round" stroke-linecap="round"/><path d="M538.5,212 C530,218 524,228 521,238 C519.5,244 519.6,247 519.6,249" fill="none" stroke="#d9868b" stroke-width="3.2" stroke-linecap="round"/><path d="M535.6,204.0 C535.1,203.0 536.9,200.9 538.1,199.8 C539.3,198.8 541.5,198.5 542.9,197.5 C544.3,196.5 544.7,194.8 546.4,193.8 C548.1,192.9 551.5,192.7 553.1,191.7 C554.7,190.7 554.8,188.7 556.1,188.1 C557.3,187.5 559.1,188.0 560.4,188.0 C561.7,188.0 563.0,187.6 564.0,188.2 C564.9,188.8 565.3,190.3 566.2,191.7 C567.1,193.1 568.8,194.7 569.3,196.6 C569.8,198.6 568.8,201.4 569.1,203.3 C569.4,205.2 571.4,206.6 571.4,208.3 C571.4,210.0 569.6,211.9 569.1,213.5 C568.6,215.1 568.8,216.7 568.1,217.7 C567.4,218.6 565.9,219.5 564.7,219.3 C563.5,219.1 562.2,217.5 561.0,216.5 C559.8,215.5 559.0,214.4 557.5,213.5 C556.0,212.6 553.7,212.0 552.0,211.0 C550.3,210.0 549.1,208.5 547.3,207.7 C545.5,206.9 543.0,206.6 541.0,206.0 C539.0,205.4 536.1,205.0 535.6,204.0 Z" fill="#f4bc62" stroke="#371e18" stroke-width="2.6" stroke-linejoin="round" stroke-linecap="round"/><ellipse cx="554" cy="195.5" rx="4" ry="2" fill="#f9d58a"/></g></g>
<text x="305.2" y="323.9" font-size="30.4" font-weight="normal" fill="#111" stroke="#111" stroke-width="0.3" textLength="105.4" lengthAdjust="spacingAndGlyphs">Pituitary</text>
<text x="323.8" y="355.8" font-size="30.4" font-weight="normal" fill="#111" stroke="#111" stroke-width="0.3" textLength="70.1" lengthAdjust="spacingAndGlyphs">gland</text>
<text x="535.7" y="323.7" font-size="30.4" font-weight="normal" fill="#111" stroke="#111" stroke-width="0.3" textLength="95.8" lengthAdjust="spacingAndGlyphs">Adrenal</text>
<text x="541.6" y="355.8" font-size="30.4" font-weight="normal" fill="#111" stroke="#111" stroke-width="0.3" textLength="84.2" lengthAdjust="spacingAndGlyphs">glands</text>
<text x="1002.4000000000001" y="323.9" font-size="30.4" font-weight="normal" fill="#111" stroke="#111" stroke-width="0.3" textLength="105.4" lengthAdjust="spacingAndGlyphs">Pituitary</text>
<text x="1021.3" y="355.8" font-size="30.4" font-weight="normal" fill="#111" stroke="#111" stroke-width="0.3" textLength="70.1" lengthAdjust="spacingAndGlyphs">gland</text>
<text x="1233.1" y="323.7" font-size="30.4" font-weight="normal" fill="#111" stroke="#111" stroke-width="0.3" textLength="95.8" lengthAdjust="spacingAndGlyphs">Adrenal</text>
<text x="1239.0" y="355.8" font-size="30.4" font-weight="normal" fill="#111" stroke="#111" stroke-width="0.3" textLength="84.2" lengthAdjust="spacingAndGlyphs">glands</text>
<polygon points="61.9,588 91.6,541 114,565 138.4,497.5 166.6,542 191.6,407 208.75,466 226,433 240,478 255,423 269.7,477 283.75,446 297,463 312.8,425.6 331,413.75 345.6,448 357,433.75 369,454 386.9,417.5 404.7,437.8 421.9,422.8 439.4,450.3 454,434.7 469,422 486.9,445.6 501,449.4 516.6,466 533,497 551.6,474 570.3,507.5 587.5,498 599,516 612,542.5 626,525 641.6,558 641.6,591 61.9,591" fill="#f9d6d6"/><polyline points="61.9,588 91.6,541 114,565 138.4,497.5 166.6,542 191.6,407 208.75,466 226,433 240,478 255,423 269.7,477 283.75,446 297,463 312.8,425.6 331,413.75 345.6,448 357,433.75 369,454 386.9,417.5 404.7,437.8 421.9,422.8 439.4,450.3 454,434.7 469,422 486.9,445.6 501,449.4 516.6,466 533,497 551.6,474 570.3,507.5 587.5,498 599,516 612,542.5 626,525 641.6,558" fill="none" stroke="#c93234" stroke-width="5" stroke-linejoin="round" stroke-linecap="round"/>
<path d="M760.5,587 C800,530 850,478.6 900,478.6 C940,478.6 960,510 990,532 C1030,561.3 1080,563.4 1150,563.4 L1340,563.4 L1340,591 L760,591 Z" fill="#d7e8f5"/><path d="M760.5,587 C800,530 850,478.6 900,478.6 C940,478.6 960,510 990,532 C1030,561.3 1080,563.4 1150,563.4 L1340,563.4" fill="none" stroke="#2f7fb2" stroke-width="5.5"/>
<path d="M60.5,592.5 L60.5,400 M59,590.8 L643,590.8" stroke="#1c1c1c" stroke-width="3.3" fill="none"/><path d="M49.9,402.2 L60.5,381.8 L71.1,402.2 Z" fill="#1c1c1c"/><path d="M642.3,580.2 L662.5,590.9 L642.3,601.6 Z" fill="#1c1c1c"/><path d="M758.5,592.5 L758.5,400 M757,590.8 L1341,590.8" stroke="#1c1c1c" stroke-width="3.3" fill="none"/><path d="M747.9,402.2 L758.5,381.8 L769.1,402.2 Z" fill="#1c1c1c"/><path d="M1340.3,580.2 L1360.5,590.9 L1340.3,601.6 Z" fill="#1c1c1c"/>
<text x="121.6" y="390.5" font-size="29.4" font-weight="normal" fill="#111" stroke="#111" stroke-width="0.3" textLength="138.6" lengthAdjust="spacingAndGlyphs">Stress Spike</text>
<text x="786" y="457.7" font-size="29.6" font-weight="normal" fill="#111" stroke="#111" stroke-width="0.3" textLength="223.5" lengthAdjust="spacingAndGlyphs">Blunted cortisol rise</text>
<text x="71.5" y="628.1" font-size="27.7" font-weight="normal" fill="#111" stroke="#111" stroke-width="0.3" textLength="578.6" lengthAdjust="spacingAndGlyphs">Prolonged cortisol elevation with slow return to baseline</text>
<text x="770.0" y="628.1" font-size="27.7" font-weight="normal" fill="#111" stroke="#111" stroke-width="0.3" textLength="578.6" lengthAdjust="spacingAndGlyphs">Prolonged cortisol elevation with slow return to baseline</text>
<g transform="translate(0,0)"><path d="M118.75,661.90 A11.25,11.25 0 0 1 135.40,653.50 A12.48,12.48 0 0 1 156.25,654.60 A12.40,12.40 0 0 1 172.90,665.00 A10.71,10.71 0 0 1 170.80,685.80 A12.73,12.73 0 0 1 152.00,694.20 A11.42,11.42 0 0 1 132.30,693.10 A13.02,13.02 0 0 1 117.70,683.75 A11.19,11.19 0 0 1 118.75,661.90 Z" fill="#dfe6ed" stroke="#1f2429" stroke-width="2.5" stroke-linejoin="round"/><circle cx="122.9" cy="702.5" r="4.1" fill="#fbfcfd" stroke="#1f2429" stroke-width="2.2"/><circle cx="112.5" cy="711.9" r="3.1" fill="#fbfcfd" stroke="#1f2429" stroke-width="2.2"/></g><g transform="translate(718.5,0)"><path d="M118.75,661.90 A11.25,11.25 0 0 1 135.40,653.50 A12.48,12.48 0 0 1 156.25,654.60 A12.40,12.40 0 0 1 172.90,665.00 A10.71,10.71 0 0 1 170.80,685.80 A12.73,12.73 0 0 1 152.00,694.20 A11.42,11.42 0 0 1 132.30,693.10 A13.02,13.02 0 0 1 117.70,683.75 A11.19,11.19 0 0 1 118.75,661.90 Z" fill="#dfe6ed" stroke="#1f2429" stroke-width="2.5" stroke-linejoin="round"/><circle cx="122.9" cy="702.5" r="4.1" fill="#fbfcfd" stroke="#1f2429" stroke-width="2.2"/><circle cx="112.5" cy="711.9" r="3.1" fill="#fbfcfd" stroke="#1f2429" stroke-width="2.2"/></g>
<text x="197.9" y="687.6" font-size="28.9" font-weight="normal" fill="#111" stroke="#111" stroke-width="0.3" textLength="401.2" lengthAdjust="spacingAndGlyphs">Chronic elevation impairs cognition.</text>
<text x="916.2" y="671.6" font-size="29" font-weight="normal" fill="#111" stroke="#111" stroke-width="0.3" textLength="316.1" lengthAdjust="spacingAndGlyphs">Balanced response supports</text>
<text x="916.5" y="701.3" font-size="29" font-weight="normal" fill="#111" stroke="#111" stroke-width="0.3" textLength="207.5" lengthAdjust="spacingAndGlyphs">cognitive function.</text>
</svg>
</body></html>
